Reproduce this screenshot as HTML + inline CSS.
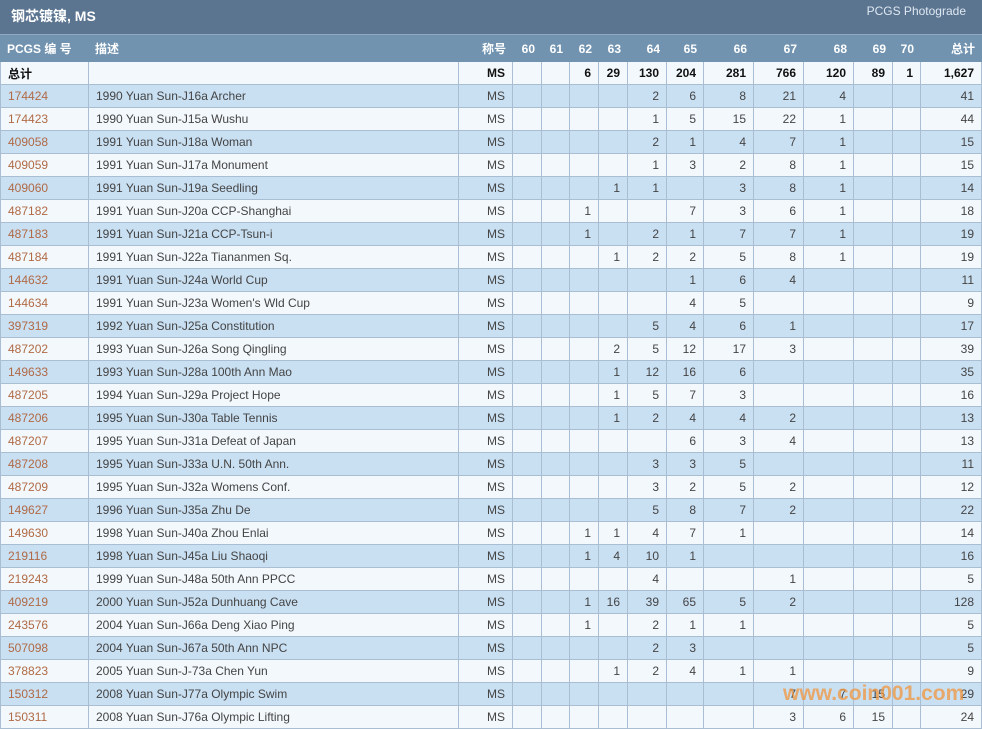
<!DOCTYPE html>
<html><head><meta charset="utf-8">
<style>
*{box-sizing:border-box;margin:0;padding:0}
body{width:982px;height:729px;background:#fff;font-family:"Liberation Sans","Noto Sans CJK SC",sans-serif;font-size:12px;color:#444;position:relative;overflow:hidden}
.title{height:35px;background:#5b7591;color:#fff;position:relative;border-bottom:1px solid #8ea6bf}
.title .l{position:absolute;left:11px;top:6px;font-size:14px;font-weight:bold}
.title .r{position:absolute;right:16px;top:4px;font-size:12px;color:#dfe8f1}
table{border-collapse:collapse;table-layout:fixed;width:981px}
td,th{border:1px solid #a9bed2;height:23px;padding:0 7px;text-align:right;white-space:nowrap;overflow:hidden}
td:nth-child(1),td:nth-child(2),th:nth-child(1),th:nth-child(2){text-align:left}
th{background:#7193b0;color:#fff;font-weight:bold;height:26px;border-color:#7193b0;padding:0 6px}
tr.t td{background:#e1e1e1;font-weight:bold;color:#111}
tbody tr:nth-child(even) td{background:#c9dff2}
tbody tr:nth-child(odd) td{background:#f3f8fc}
a{color:#b06a45;text-decoration:none}
.wm{position:absolute;left:783px;top:682px;font:bold 21px "Liberation Sans",sans-serif;color:rgba(240,150,60,0.75)}
</style></head><body>
<div class="title"><span class="l">钢芯镀镍, MS</span><span class="r">PCGS Photograde</span></div>
<table>
<colgroup><col style="width:88px"><col style="width:370px"><col style="width:54px"><col style="width:29px"><col style="width:28px"><col style="width:29px"><col style="width:29px"><col style="width:39px"><col style="width:37px"><col style="width:50px"><col style="width:50px"><col style="width:50px"><col style="width:39px"><col style="width:28px"><col style="width:61px"></colgroup>
<thead><tr><th>PCGS 编 号</th><th>描述</th><th>称号</th><th>60</th><th>61</th><th>62</th><th>63</th><th>64</th><th>65</th><th>66</th><th>67</th><th>68</th><th>69</th><th>70</th><th>总计</th></tr></thead>
<tbody>
<tr class="t"><td>总计</td><td></td><td>MS</td><td></td><td></td><td>6</td><td>29</td><td>130</td><td>204</td><td>281</td><td>766</td><td>120</td><td>89</td><td>1</td><td>1,627</td></tr>
<tr><td><a>174424</a></td><td>1990 Yuan Sun-J16a Archer</td><td>MS</td><td></td><td></td><td></td><td></td><td>2</td><td>6</td><td>8</td><td>21</td><td>4</td><td></td><td></td><td>41</td></tr>
<tr><td><a>174423</a></td><td>1990 Yuan Sun-J15a Wushu</td><td>MS</td><td></td><td></td><td></td><td></td><td>1</td><td>5</td><td>15</td><td>22</td><td>1</td><td></td><td></td><td>44</td></tr>
<tr><td><a>409058</a></td><td>1991 Yuan Sun-J18a Woman</td><td>MS</td><td></td><td></td><td></td><td></td><td>2</td><td>1</td><td>4</td><td>7</td><td>1</td><td></td><td></td><td>15</td></tr>
<tr><td><a>409059</a></td><td>1991 Yuan Sun-J17a Monument</td><td>MS</td><td></td><td></td><td></td><td></td><td>1</td><td>3</td><td>2</td><td>8</td><td>1</td><td></td><td></td><td>15</td></tr>
<tr><td><a>409060</a></td><td>1991 Yuan Sun-J19a Seedling</td><td>MS</td><td></td><td></td><td></td><td>1</td><td>1</td><td></td><td>3</td><td>8</td><td>1</td><td></td><td></td><td>14</td></tr>
<tr><td><a>487182</a></td><td>1991 Yuan Sun-J20a CCP-Shanghai</td><td>MS</td><td></td><td></td><td>1</td><td></td><td></td><td>7</td><td>3</td><td>6</td><td>1</td><td></td><td></td><td>18</td></tr>
<tr><td><a>487183</a></td><td>1991 Yuan Sun-J21a CCP-Tsun-i</td><td>MS</td><td></td><td></td><td>1</td><td></td><td>2</td><td>1</td><td>7</td><td>7</td><td>1</td><td></td><td></td><td>19</td></tr>
<tr><td><a>487184</a></td><td>1991 Yuan Sun-J22a Tiananmen Sq.</td><td>MS</td><td></td><td></td><td></td><td>1</td><td>2</td><td>2</td><td>5</td><td>8</td><td>1</td><td></td><td></td><td>19</td></tr>
<tr><td><a>144632</a></td><td>1991 Yuan Sun-J24a World Cup</td><td>MS</td><td></td><td></td><td></td><td></td><td></td><td>1</td><td>6</td><td>4</td><td></td><td></td><td></td><td>11</td></tr>
<tr><td><a>144634</a></td><td>1991 Yuan Sun-J23a Women's Wld Cup</td><td>MS</td><td></td><td></td><td></td><td></td><td></td><td>4</td><td>5</td><td></td><td></td><td></td><td></td><td>9</td></tr>
<tr><td><a>397319</a></td><td>1992 Yuan Sun-J25a Constitution</td><td>MS</td><td></td><td></td><td></td><td></td><td>5</td><td>4</td><td>6</td><td>1</td><td></td><td></td><td></td><td>17</td></tr>
<tr><td><a>487202</a></td><td>1993 Yuan Sun-J26a Song Qingling</td><td>MS</td><td></td><td></td><td></td><td>2</td><td>5</td><td>12</td><td>17</td><td>3</td><td></td><td></td><td></td><td>39</td></tr>
<tr><td><a>149633</a></td><td>1993 Yuan Sun-J28a 100th Ann Mao</td><td>MS</td><td></td><td></td><td></td><td>1</td><td>12</td><td>16</td><td>6</td><td></td><td></td><td></td><td></td><td>35</td></tr>
<tr><td><a>487205</a></td><td>1994 Yuan Sun-J29a Project Hope</td><td>MS</td><td></td><td></td><td></td><td>1</td><td>5</td><td>7</td><td>3</td><td></td><td></td><td></td><td></td><td>16</td></tr>
<tr><td><a>487206</a></td><td>1995 Yuan Sun-J30a Table Tennis</td><td>MS</td><td></td><td></td><td></td><td>1</td><td>2</td><td>4</td><td>4</td><td>2</td><td></td><td></td><td></td><td>13</td></tr>
<tr><td><a>487207</a></td><td>1995 Yuan Sun-J31a Defeat of Japan</td><td>MS</td><td></td><td></td><td></td><td></td><td></td><td>6</td><td>3</td><td>4</td><td></td><td></td><td></td><td>13</td></tr>
<tr><td><a>487208</a></td><td>1995 Yuan Sun-J33a U.N. 50th Ann.</td><td>MS</td><td></td><td></td><td></td><td></td><td>3</td><td>3</td><td>5</td><td></td><td></td><td></td><td></td><td>11</td></tr>
<tr><td><a>487209</a></td><td>1995 Yuan Sun-J32a Womens Conf.</td><td>MS</td><td></td><td></td><td></td><td></td><td>3</td><td>2</td><td>5</td><td>2</td><td></td><td></td><td></td><td>12</td></tr>
<tr><td><a>149627</a></td><td>1996 Yuan Sun-J35a Zhu De</td><td>MS</td><td></td><td></td><td></td><td></td><td>5</td><td>8</td><td>7</td><td>2</td><td></td><td></td><td></td><td>22</td></tr>
<tr><td><a>149630</a></td><td>1998 Yuan Sun-J40a Zhou Enlai</td><td>MS</td><td></td><td></td><td>1</td><td>1</td><td>4</td><td>7</td><td>1</td><td></td><td></td><td></td><td></td><td>14</td></tr>
<tr><td><a>219116</a></td><td>1998 Yuan Sun-J45a Liu Shaoqi</td><td>MS</td><td></td><td></td><td>1</td><td>4</td><td>10</td><td>1</td><td></td><td></td><td></td><td></td><td></td><td>16</td></tr>
<tr><td><a>219243</a></td><td>1999 Yuan Sun-J48a 50th Ann PPCC</td><td>MS</td><td></td><td></td><td></td><td></td><td>4</td><td></td><td></td><td>1</td><td></td><td></td><td></td><td>5</td></tr>
<tr><td><a>409219</a></td><td>2000 Yuan Sun-J52a Dunhuang Cave</td><td>MS</td><td></td><td></td><td>1</td><td>16</td><td>39</td><td>65</td><td>5</td><td>2</td><td></td><td></td><td></td><td>128</td></tr>
<tr><td><a>243576</a></td><td>2004 Yuan Sun-J66a Deng Xiao Ping</td><td>MS</td><td></td><td></td><td>1</td><td></td><td>2</td><td>1</td><td>1</td><td></td><td></td><td></td><td></td><td>5</td></tr>
<tr><td><a>507098</a></td><td>2004 Yuan Sun-J67a 50th Ann NPC</td><td>MS</td><td></td><td></td><td></td><td></td><td>2</td><td>3</td><td></td><td></td><td></td><td></td><td></td><td>5</td></tr>
<tr><td><a>378823</a></td><td>2005 Yuan Sun-J-73a Chen Yun</td><td>MS</td><td></td><td></td><td></td><td>1</td><td>2</td><td>4</td><td>1</td><td>1</td><td></td><td></td><td></td><td>9</td></tr>
<tr><td><a>150312</a></td><td>2008 Yuan Sun-J77a Olympic Swim</td><td>MS</td><td></td><td></td><td></td><td></td><td></td><td></td><td></td><td>7</td><td>7</td><td>15</td><td></td><td>29</td></tr>
<tr><td><a>150311</a></td><td>2008 Yuan Sun-J76a Olympic Lifting</td><td>MS</td><td></td><td></td><td></td><td></td><td></td><td></td><td></td><td>3</td><td>6</td><td>15</td><td></td><td>24</td></tr>
</tbody></table>
<div class="wm">www.coin001.com</div>
</body></html>
